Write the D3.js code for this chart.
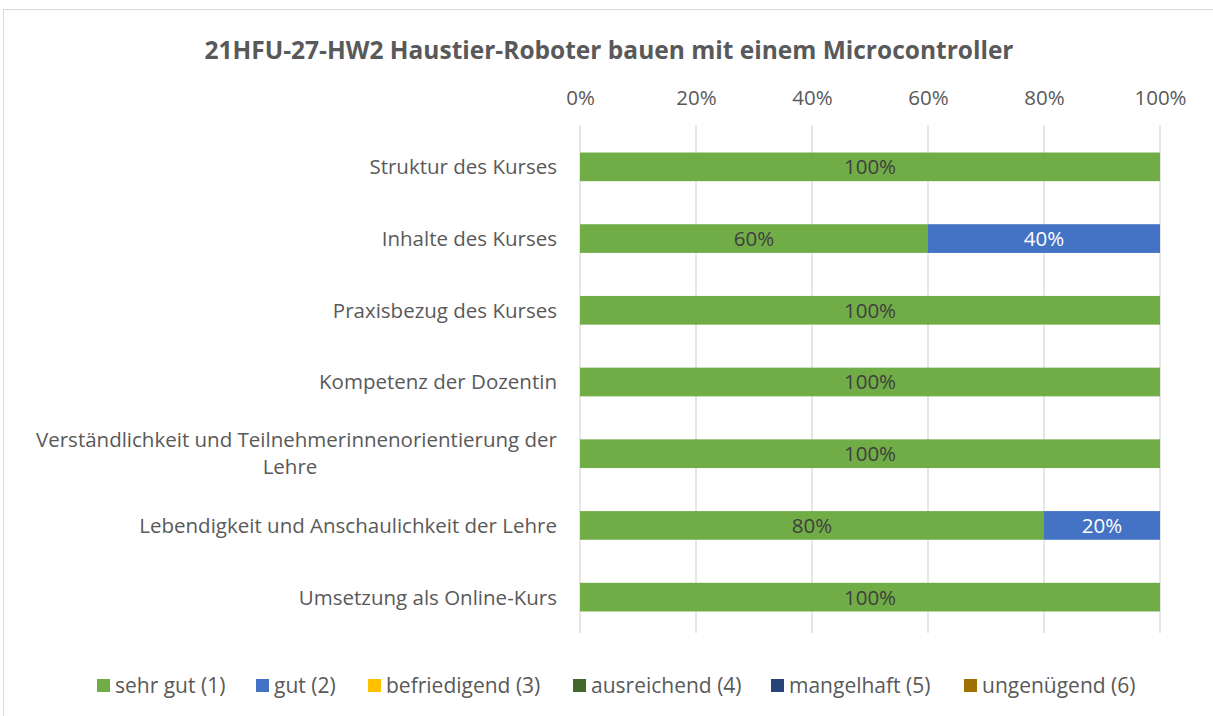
<!DOCTYPE html>
<html>
<head>
<meta charset="utf-8">
<script src="https://cdn.jsdelivr.net/npm/d3@7"></script>
<style>
  body { margin: 0; background: #fff; }
  text { font-family: "Open Sans", sans-serif; }
</style>
</head>
<body>
<div id="chart"></div>
<script>
/* Stacked 100% bar chart of course ratings */

const categories = [
    "Struktur des Kurses",
    "Inhalte des Kurses",
    "Praxisbezug des Kurses",
    "Kompetenz der Dozentin",
    "Verständlichkeit und Teilnehmerinnenorientierung der Lehre",
    "Lebendigkeit und Anschaulichkeit der Lehre",
    "Umsetzung als Online-Kurs"
];
const seriesNames = ["sehr gut (1)", "gut (2)", "befriedigend (3)", "ausreichend (4)", "mangelhaft (5)", "ungenügend (6)"];
const sehrGut      = [100, 60, 100, 100, 100, 80, 100];
const gut          = [0, 40, 0, 0, 0, 20, 0];
const befriedigend = [0, 0, 0, 0, 0, 0, 0];
const ausreichend  = [0, 0, 0, 0, 0, 0, 0];
const mangelhaft   = [0, 0, 0, 0, 0, 0, 0];
const ungenuegend  = [0, 0, 0, 0, 0, 0, 0];
const xTicks = [0, 20, 40, 60, 80, 100];

const colors = ["#70AD47", "#4472C4", "#FFC000", "#43682B", "#264478", "#9E7100"];
const labelColors = ["#404040", "#ffffff", "#404040", "#ffffff", "#ffffff", "#ffffff"];

const width = 1213, height = 716;
const margin = { top: 131, right: 53, bottom: 83, left: 580 };

const allSeries = [sehrGut, gut, befriedigend, ausreichend, mangelhaft, ungenuegend];
const table = categories.map((c, i) => {
    const row = { cat: c };
    seriesNames.forEach((s, j) => row[s] = allSeries[j][i]);
    return row;
});
const stacked = d3.stack().keys(seriesNames)(table);

const svg = d3.select("#chart").append("svg")
    .attr("width", width)
    .attr("height", height);

// frame
svg.append("rect")
    .attr("x", 3.5).attr("y", 9.5)
    .attr("width", width + 10).attr("height", height + 10)
    .attr("fill", "#fff")
    .attr("stroke", "#d9d9d9");

const x = d3.scaleLinear()
    .domain([0, 100])
    .range([margin.left, width - margin.right]);

const y = d3.scaleBand()
    .domain(categories)
    .range([margin.top, height - margin.bottom])
    .paddingInner(0.6)
    .paddingOuter(0.3);

// gridlines
svg.append("g")
    .selectAll("line")
    .data(xTicks)
    .join("line")
    .attr("x1", d => x(d)).attr("x2", d => x(d))
    .attr("y1", margin.top - 6).attr("y2", height - margin.bottom)
    .attr("stroke", "#d9d9d9")
    .attr("stroke-width", 1.3);

// top axis labels
svg.append("g")
    .attr("transform", `translate(0,${margin.top - 23})`)
    .call(d3.axisTop(x).tickValues(xTicks).tickFormat(d => d + "%").tickSize(0))
    .call(g => g.select(".domain").remove())
    .call(g => g.selectAll("text")
        .attr("fill", "#595959")
        .style("font-size", "20.5px")
        .style("font-family", "'Open Sans', sans-serif"));

// bars
const layer = svg.append("g")
    .selectAll("g")
    .data(stacked)
    .join("g")
    .attr("fill", (d, i) => colors[i]);

layer.selectAll("rect")
    .data(d => d)
    .join("rect")
    .attr("x", d => x(d[0]))
    .attr("y", d => y(d.data.cat))
    .attr("width", d => x(d[1]) - x(d[0]))
    .attr("height", y.bandwidth());

// value labels
stacked.forEach((s, i) => {
    svg.append("g")
        .selectAll("text")
        .data(s.filter(d => d[1] - d[0] > 0))
        .join("text")
        .attr("x", d => (x(d[0]) + x(d[1])) / 2)
        .attr("y", d => y(d.data.cat) + y.bandwidth() / 2)
        .attr("dy", "0.36em")
        .attr("text-anchor", "middle")
        .attr("fill", labelColors[i])
        .style("font-size", "20.5px")
        .text(d => (d[1] - d[0]) + "%");
});

// category labels (wrapped)
const catLabels = svg.append("g")
    .selectAll("text")
    .data(categories)
    .join("text")
    .attr("text-anchor", "end")
    .attr("fill", "#595959")
    .style("font-size", "20.5px");

catLabels.each(function(d) {
    const t = d3.select(this);
    const cy = y(d) + y.bandwidth() / 2;
    const lines = d === "Verständlichkeit und Teilnehmerinnenorientierung der Lehre"
        ? ["Verständlichkeit und Teilnehmerinnenorientierung der", "Lehre"]
        : [d];
    if (lines.length === 1) {
        t.append("tspan").attr("x", margin.left - 23).attr("y", cy).attr("dy", "0.36em").text(lines[0]);
    } else {
        t.append("tspan").attr("x", margin.left - 23).attr("y", cy - 14).attr("dy", "0.36em").text(lines[0]);
        t.append("tspan").attr("x", 290).attr("y", cy + 13).attr("dy", "0.36em")
            .attr("text-anchor", "middle").text(lines[1]);
    }
});

// title
svg.append("text")
    .attr("x", 609)
    .attr("y", 50)
    .attr("dy", "0.36em")
    .attr("text-anchor", "middle")
    .attr("fill", "#595959")
    .style("font-size", "24.5px")
    .style("font-weight", "bold")
    .text("21HFU-27-HW2 Haustier-Roboter bauen mit einem Microcontroller");

// legend
const legendX = [97, 256, 368, 573, 771, 964];
const legend = svg.append("g")
    .selectAll("g")
    .data(seriesNames)
    .join("g")
    .attr("transform", (d, i) => `translate(${legendX[i]},685)`);

legend.append("rect")
    .attr("x", 0).attr("y", -6)
    .attr("width", 13).attr("height", 13)
    .attr("fill", (d, i) => colors[i]);

legend.append("text")
    .attr("x", 18)
    .attr("dy", "0.36em")
    .attr("fill", "#595959")
    .style("font-size", "21px")
    .text(d => d);
</script>
</body>
</html>
